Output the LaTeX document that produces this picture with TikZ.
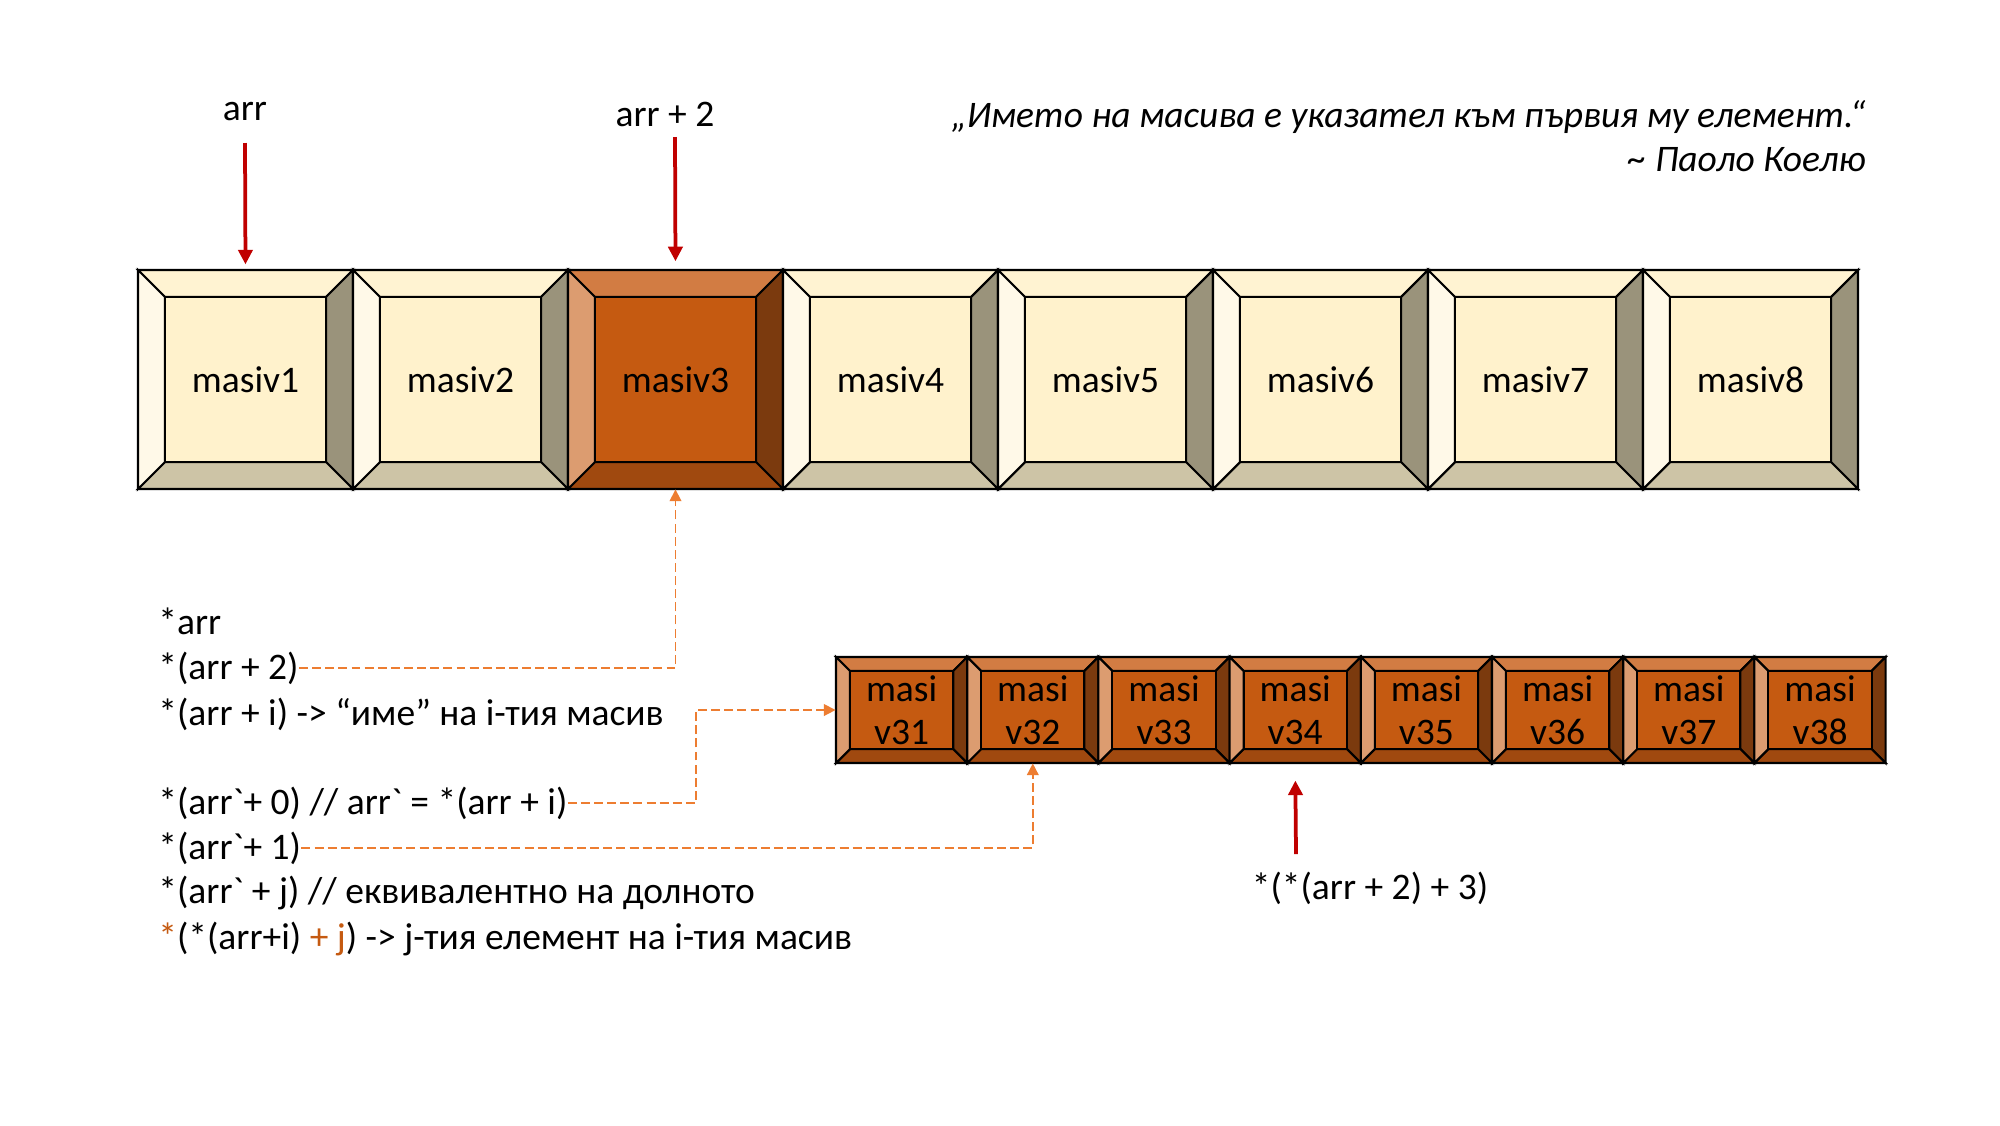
\documentclass[tikz,border=0pt]{standalone}
\usepackage{fontspec}
\setmainfont{Carlito}[Ligatures=TeXOff]
\usetikzlibrary{arrows.meta,calc,fit}
\definecolor{lC}{HTML}{FFF2CC}
\definecolor{lT}{HTML}{FFF3D2}
\definecolor{lL}{HTML}{FFF9E8}
\definecolor{lR}{HTML}{9A937B}
\definecolor{lB}{HTML}{CDC4A6}
\definecolor{oC}{HTML}{C55A11}
\definecolor{oT}{HTML}{D27C43}
\definecolor{oL}{HTML}{DC9C70}
\definecolor{oR}{HTML}{7B3A0E}
\definecolor{oB}{HTML}{A0490F}
\definecolor{accred}{HTML}{C00000}
\definecolor{accor}{HTML}{ED7D31}
\definecolor{txtor}{HTML}{C55A11}
\tikzset{
  face/.style={draw=black, line width=1pt, line join=miter},
  boxtext/.style={align=center, inner sep=0pt, font=\fontsize{18}{20.6}\selectfont},
  codetxt/.style={anchor=base west, inner sep=0pt, font=\fontsize{18}{21}\selectfont},
  plaintxt/.style={inner sep=0pt, font=\fontsize{18}{21}\selectfont},
  quotetxt/.style={anchor=base east, inner sep=0pt, font=\itshape\fontsize{18}{21}\selectfont},
  redarr/.style={draw=accred, line width=1.8pt, -{Triangle[length=7pt,width=6.8pt]}},
  orline/.style={draw=accor, line width=0.75pt, dash pattern=on 4.3pt off 2pt, -{Triangle[length=5.6pt,width=5.6pt]}}
}
% #1 name, #2 left x, #3 top y, #4 width, #5 height, #6 bevel, #7 palette, #8 text
\newcommand\bevbox[8]{%
  \pgfmathsetmacro\xR{#2+#4}\pgfmathsetmacro\yB{#3+#5}%
  \pgfmathsetmacro\xi{#2+#6}\pgfmathsetmacro\yi{#3+#6}%
  \pgfmathsetmacro\xj{#2+#4-#6}\pgfmathsetmacro\yj{#3+#5-#6}%
  \filldraw[face, fill=#7T] (#2,#3) -- (\xR,#3) -- (\xj,\yi) -- (\xi,\yi) -- cycle;
  \filldraw[face, fill=#7R] (\xR,#3) -- (\xR,\yB) -- (\xj,\yj) -- (\xj,\yi) -- cycle;
  \filldraw[face, fill=#7B] (\xR,\yB) -- (#2,\yB) -- (\xi,\yj) -- (\xj,\yj) -- cycle;
  \filldraw[face, fill=#7L] (#2,\yB) -- (#2,#3) -- (\xi,\yi) -- (\xi,\yj) -- cycle;
  \filldraw[face, fill=#7C] (\xi,\yi) rectangle (\xj,\yj);
  \node[inner sep=0pt, fit={(#2,#3) (\xR,\yB)}] (#1) {};
  \node[boxtext] (#1t) at (#1.center) {#8};
}
\begin{document}
\begin{tikzpicture}[x=0.48pt,y=-0.48pt]
\fill[white] (0,0) rectangle (2000,1125);
\path[use as bounding box] (0,0) rectangle (2000,1125);

% top row
\foreach \i/\p in {1/l,2/l,3/o,4/l,5/l,6/l,7/l,8/l}{
  \pgfmathsetmacro\xx{138+(\i-1)*215}
  \bevbox{t\i}{\xx}{270}{215}{219}{27}{\p}{masiv\i}
}
% bottom row
\foreach \i in {1,...,8}{
  \pgfmathsetmacro\xx{836+(\i-1)*131.2}
  \bevbox{b\i}{\xx}{657}{131.2}{106}{14}{o}{masi\\v3\i}
}

% top labels and arrows
\node[plaintxt] (lab1) at (245,112) {arr};
\node[plaintxt] (lab2) at (665,114) {arr + 2};
\coordinate (s1) at (245,143);
\coordinate (s2) at (675,137);
\draw[redarr, shorten >=2.5pt] (s1) -- (t1.north);
\draw[redarr, shorten >=4pt] (s2) -- (t3.north);

% quote
\node[quotetxt] (q1) at (1866,127) {„Името на масива е указател към първия му елемент.“};
\node[quotetxt] (q2) at (1866,171) {\textasciitilde{} Паоло Коелю};

% code lines
\node[codetxt] (l1) at (158,634) {*arr};
\node[codetxt] (l2) at (158,679) {*(arr + 2)};
\node[codetxt] (l3) at (158,725) {*(arr + i) -> “име” на i-тия масив};
\node[codetxt] (l4) at (158,814) {*(arr`+ 0) // arr` = *(arr + i)};
\node[codetxt] (l5) at (158,859) {*(arr`+ 1)};
\node[codetxt] (l6) at (158,903) {*(arr` + j) // еквивалентно на долното};
\node[codetxt] (l7) at (158,949) {\textcolor{txtor}{*}(*(arr+i) \textcolor{txtor}{+ j}) -> j-тия елемент на i-тия масив};

% dashed connectors
\coordinate (k) at (696,0);
\draw[orline] (l2.east) -| (t3.south);
\draw[orline] (l4.east) -| (k |- b1.west) -- (b1.west);
\draw[orline] (l5.east) -| (b2.south);

% bottom label and arrow
\node[plaintxt] (lab3) at (1370,888) {*(*(arr + 2) + 3)};
\coordinate (s3) at (1296,854);
\draw[redarr, shorten >=8.2pt] (s3) -- (b4.south);
\end{tikzpicture}
\end{document}
